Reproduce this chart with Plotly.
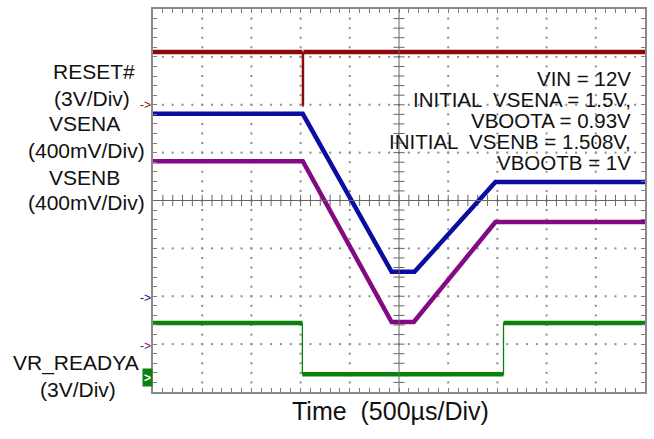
import numpy as np
import plotly.graph_objects as go

# Time in microseconds (500 us/div, 10 divisions); levels in volts
t_reset = [0, 1518, 1518, 1530, 1530, 5000]
v_reset = [3.3, 3.3, 0.0, 0.0, 3.3, 3.3]

t_vsena = [0, 1522, 2425, 2658, 3480, 5000]
v_vsena = [1.5, 1.5, 0.18, 0.18, 0.93, 0.93]

t_vsenb = [0, 1522, 2425, 2650, 3480, 5000]
v_vsenb = [1.508, 1.508, 0.165, 0.165, 1.0, 1.0]

t_ready = [0, 1518, 1518, 3562, 3562, 5000]
v_ready = [3.3, 3.3, 0.1, 0.1, 3.3, 3.3]

# channel settings: volts per division, ground offset (divisions), colour
channels = [
    ("RESET#", t_reset, v_reset, 3.0, 2.0, "#8c0a0a"),
    ("VSENA", t_vsena, v_vsena, 0.4, -1.94, "#0c0ca0"),
    ("VSENB", t_vsenb, v_vsenb, 0.4, -2.95, "#820a82"),
    ("VR_READYA", t_ready, v_ready, 3.0, -3.66, "#0a820a"),
]

W, H = 654, 439
L, R, T, B = 153, 8, 7, 47
PW, PH = W - L - R, H - T - B

fig = go.Figure()

# graticule dots
major_x = [500 * i for i in range(1, 10) if i != 5]
major_y = [i for i in range(-3, 4) if i != 0]
minor_x = [100 * i for i in range(1, 50)]
minor_y = [round(-4 + 0.2 * k, 3) for k in range(1, 40)]
gx, gy = [], []
for x in major_x:
    for y in minor_y:
        gx.append(x); gy.append(y)
for y in major_y:
    for x in minor_x:
        gx.append(x); gy.append(y)
fig.add_trace(go.Scatter(x=gx, y=gy, mode="markers", hoverinfo="skip",
                         marker=dict(symbol="square", size=2, color="#8c8c8c")))

# centre cross with tick marks
fig.add_shape(type="line", x0=0, x1=5000, y0=0, y1=0, line=dict(color="#666666", width=1))
fig.add_shape(type="line", x0=2500, x1=2500, y0=-4, y1=4, line=dict(color="#666666", width=1))
fig.add_trace(go.Scatter(x=minor_x, y=[0] * len(minor_x), mode="markers", hoverinfo="skip",
                         marker=dict(symbol="line-ns", size=8, line=dict(color="#666666", width=1))))
fig.add_trace(go.Scatter(x=[2500] * len(minor_y), y=minor_y, mode="markers", hoverinfo="skip",
                         marker=dict(symbol="line-ew", size=8, line=dict(color="#666666", width=1))))

# waveforms: thick flat/sloped segments, thin vertical edges
for name, ts, vs, scale, off, col in channels:
    ys = [off + v / scale for v in vs]
    fig.add_trace(go.Scatter(x=ts, y=ys, mode="lines", hoverinfo="skip",
                             line=dict(color=col, width=1.3)))
    tx, ty = [], []
    for i in range(len(ts) - 1):
        if ts[i] == ts[i + 1]:
            tx.append(None); ty.append(None)
            continue
        tx += [ts[i], ts[i + 1]]
        ty += [ys[i], ys[i + 1]]
    fig.add_trace(go.Scatter(x=tx, y=ty, mode="lines", hoverinfo="skip", connectgaps=False,
                             line=dict(color=col, width=4.5)))


def px_x(p):
    return (p - L) / PW


def px_y(p):
    return (T + PH - p) / PH


ann = []
FONT = "Liberation Sans, Arial, sans-serif"

# channel labels at the left
left_labels = [
    ("RESET#", 94, 70), ("(3V/Div)", 92, 97),
    ("VSENA", 84, 122), ("(400mV/Div)", 86, 149),
    ("VSENB", 84, 176), ("(400mV/Div)", 86, 202),
    ("VR_READYA", 76, 363), ("(3V/Div)", 78, 389),
]
for txt, x, y in left_labels:
    ann.append(dict(text=txt, x=px_x(x), y=px_y(y), xref="paper", yref="paper",
                    xanchor="center", yanchor="middle", showarrow=False,
                    font=dict(family=FONT, size=21, color="#111111")))

# test conditions
notes = [
    ("VIN = 12V", 76.5),
    ("INITIAL  VSENA = 1.5V,", 97.8),
    ("VBOOTA = 0.93V", 119.1),
    ("INITIAL  VSENB = 1.508V,", 140.4),
    ("VBOOTB = 1V", 161.7),
]
for txt, y in notes:
    ann.append(dict(text=txt, x=px_x(634), y=px_y(y), xref="paper", yref="paper",
                    xanchor="right", yanchor="middle", showarrow=False,
                    font=dict(family=FONT, size=20.5, color="#111111")))

# ground reference markers
for y, col in [(2.0, "#8c0a0a"), (-2.03, "#0c0ca0"), (-3.04, "#820a82")]:
    ann.append(dict(text="->", x=0, y=y, xref="paper", yref="y", xanchor="right",
                    yanchor="middle", xshift=0, showarrow=False,
                    font=dict(family=FONT, size=12, color=col)))
ann.append(dict(text="<b>></b>", x=0, y=-3.69, xref="paper", yref="y", xanchor="right",
                yanchor="middle", showarrow=False, bgcolor="#0a820a", borderpad=0,
                width=9, height=17, font=dict(family=FONT, size=12, color="white")))

# time base
ann.append(dict(text="Time  (500µs/Div)", x=px_x(391), y=px_y(411), xref="paper", yref="paper",
                xanchor="center", yanchor="middle", showarrow=False,
                font=dict(family=FONT, size=25, color="#111111")))

axis_common = dict(showgrid=False, zeroline=False, showline=True, linecolor="#8a8a8a",
                   linewidth=2, mirror="ticks", ticks="inside", ticklen=4,
                   tickcolor="#7a7a7a", tickwidth=1, showticklabels=False, fixedrange=True)

fig.update_layout(
    width=W, height=H, margin=dict(l=L, r=R, t=T, b=B),
    paper_bgcolor="white", plot_bgcolor="white", showlegend=False,
    xaxis=dict(range=[0, 5000], tick0=0, dtick=100, **axis_common),
    yaxis=dict(range=[-4, 4], tick0=-4, dtick=0.2, **axis_common),
    annotations=ann,
)

fig.write_html("out.html")
